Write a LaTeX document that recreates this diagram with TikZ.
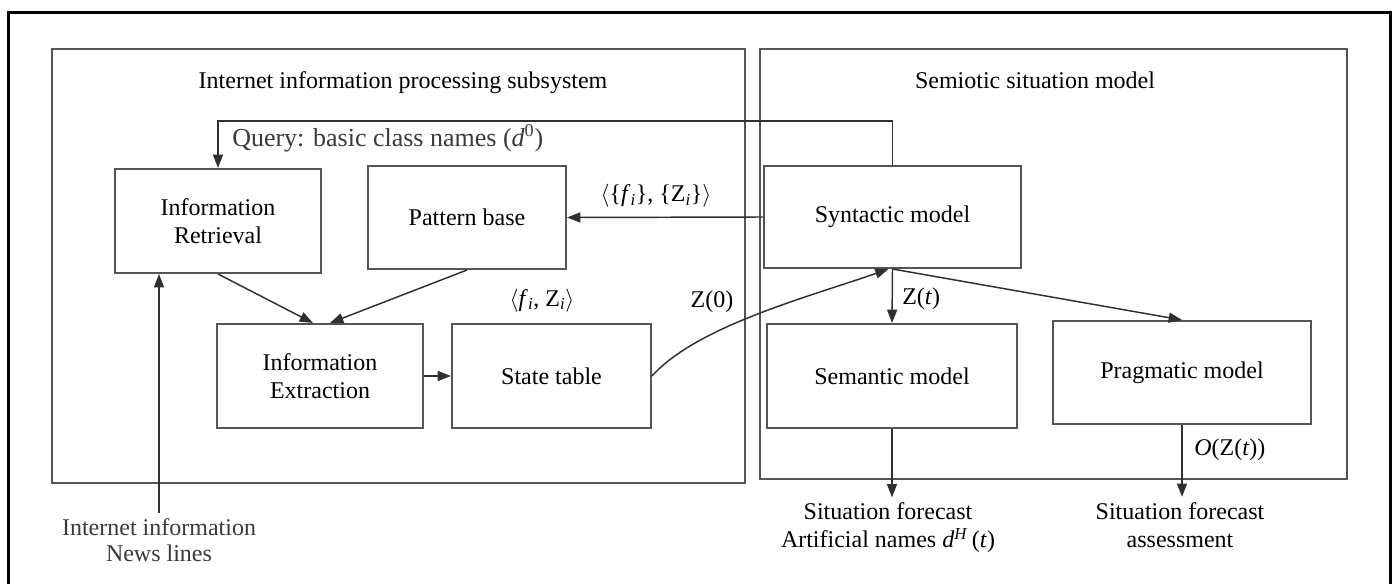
\documentclass[tikz,border=0pt]{standalone}
\usepackage{fontspec}
\setmainfont{Liberation Serif}
\usetikzlibrary{arrows.meta,calc}
\definecolor{boxgray}{HTML}{555555}
\definecolor{linegray}{HTML}{303030}
\definecolor{textgray}{HTML}{3A3A3A}
\newcommand\itx[1]{\textit{#1}}
\begin{document}
\begin{tikzpicture}[x=0.75pt,y=-0.75pt,
  box/.style={draw=boxgray, line width=1.5pt, inner sep=0pt, align=center, font=\fontsize{18}{21}\selectfont},
  cont/.style={draw=boxgray, line width=1.5pt, inner sep=0pt},
  conn/.style={draw=linegray, line width=1.1pt},
  arr/.style={conn, -{Triangle[length=10pt,width=7.5pt]}},
  lbl/.style={font=\fontsize{18}{21}\selectfont, inner sep=0pt}]
\useasboundingbox (0,0) rectangle (1394,584);
\fill[white] (0,0) rectangle (1394,584);
\draw[line width=2.25pt] (8,600) -- (8,13) -- (1390,13) -- (1390,600);

% containers
\node[cont, minimum width=519.75pt, minimum height=325.5pt] (leftc) at (398.5,266) {};
\node[cont, minimum width=440.25pt, minimum height=322.5pt] (rightc) at (1053.5,264) {};
\node[lbl, anchor=base] (lefttitle) at (403,89) {Internet information processing subsystem};
\node[lbl, anchor=base] (righttitle) at (1035,89) {Semiotic situation model};

% boxes
\node[box, minimum width=154.5pt, minimum height=78pt] (ir) at (218,221) {Information\\Retrieval};
\node[box, minimum width=148.5pt, minimum height=77.25pt] (pb) at (467,217.5) {Pattern base};
\node[box, minimum width=154.5pt, minimum height=78pt] (ie) at (320,376) {Information\\Extraction};
\node[box, minimum width=149.25pt, minimum height=78pt] (st) at (551.5,376) {State table};
\node[box, minimum width=192.75pt, minimum height=76.5pt] (syn) at (892.5,217) {Syntactic model};
\node[box, minimum width=187.5pt, minimum height=78pt] (sem) at (892,376) {Semantic model};
\node[box, minimum width=193.5pt, minimum height=77.25pt] (prag) at (1182,372.5) {Pragmatic model};

% labels
\node[lbl, anchor=base west, text=textgray, font=\fontsize{19.5}{21}\selectfont] (query) at (232,147) {Query: basic class names (\itx{d}\textsuperscript{0})};
\node[lbl, anchor=base] (pblabel) at (656,202) {$\langle$\{\itx{f}\textsubscript{\itx{i}}\}, \{Z\textsubscript{\itx{i}}\}$\rangle$};
\node[lbl, anchor=base] (stlabel) at (542,306) {$\langle$\itx{f}\textsubscript{\itx{i}}, Z\textsubscript{\itx{i}}$\rangle$};
\node[lbl, anchor=base] (z0) at (712,307) {Z(0)};
\node[lbl, anchor=base west] (zt) at (902,305) {Z(\itx{t})};
\node[lbl, anchor=base west] (ozt) at (1194,455) {\itx{O}(Z(\itx{t}))};

% outputs
\node[lbl, align=center, inner sep=4pt] (semout) at (888,528) {Situation forecast\\Artificial names \itx{d}\textsuperscript{\itx{H}}\,(\itx{t})};
\node[lbl, align=center, inner sep=4pt] (pragout) at (1180,525) {Situation forecast\\assessment};
\node[lbl, align=center, inner sep=4pt, text=textgray, font=\fontsize{18}{19}\selectfont] (news) at (159,540) {Internet information\\News lines};

% connectors
\draw[arr] (syn.north) -- ++(0,-44) -| (ir.north);
\draw[arr] (syn.west) -- (pb.east);
\draw[arr] (ir.south) -- ($(ie.north)+(-7,0)$);
\draw[arr] (pb.south) -- ($(ie.north)+(10,0)$);
\draw[arr] (ie.east) -- (st.west);
\draw[arr] (st.east) .. controls +(45,-50) and +(-80,28) .. ($(syn.south)+(-4,0)$);
\draw[arr] (syn.south) -- (sem.north);
\draw[arr] (syn.south) -- (prag.north);
\draw[arr] (sem.south) -- (sem.south |- semout.north);
\draw[arr] (prag.south) -- (prag.south |- pragout.north);
\draw[arr] (news.north) -- (news.north |- ir.south);
\end{tikzpicture}
\end{document}
